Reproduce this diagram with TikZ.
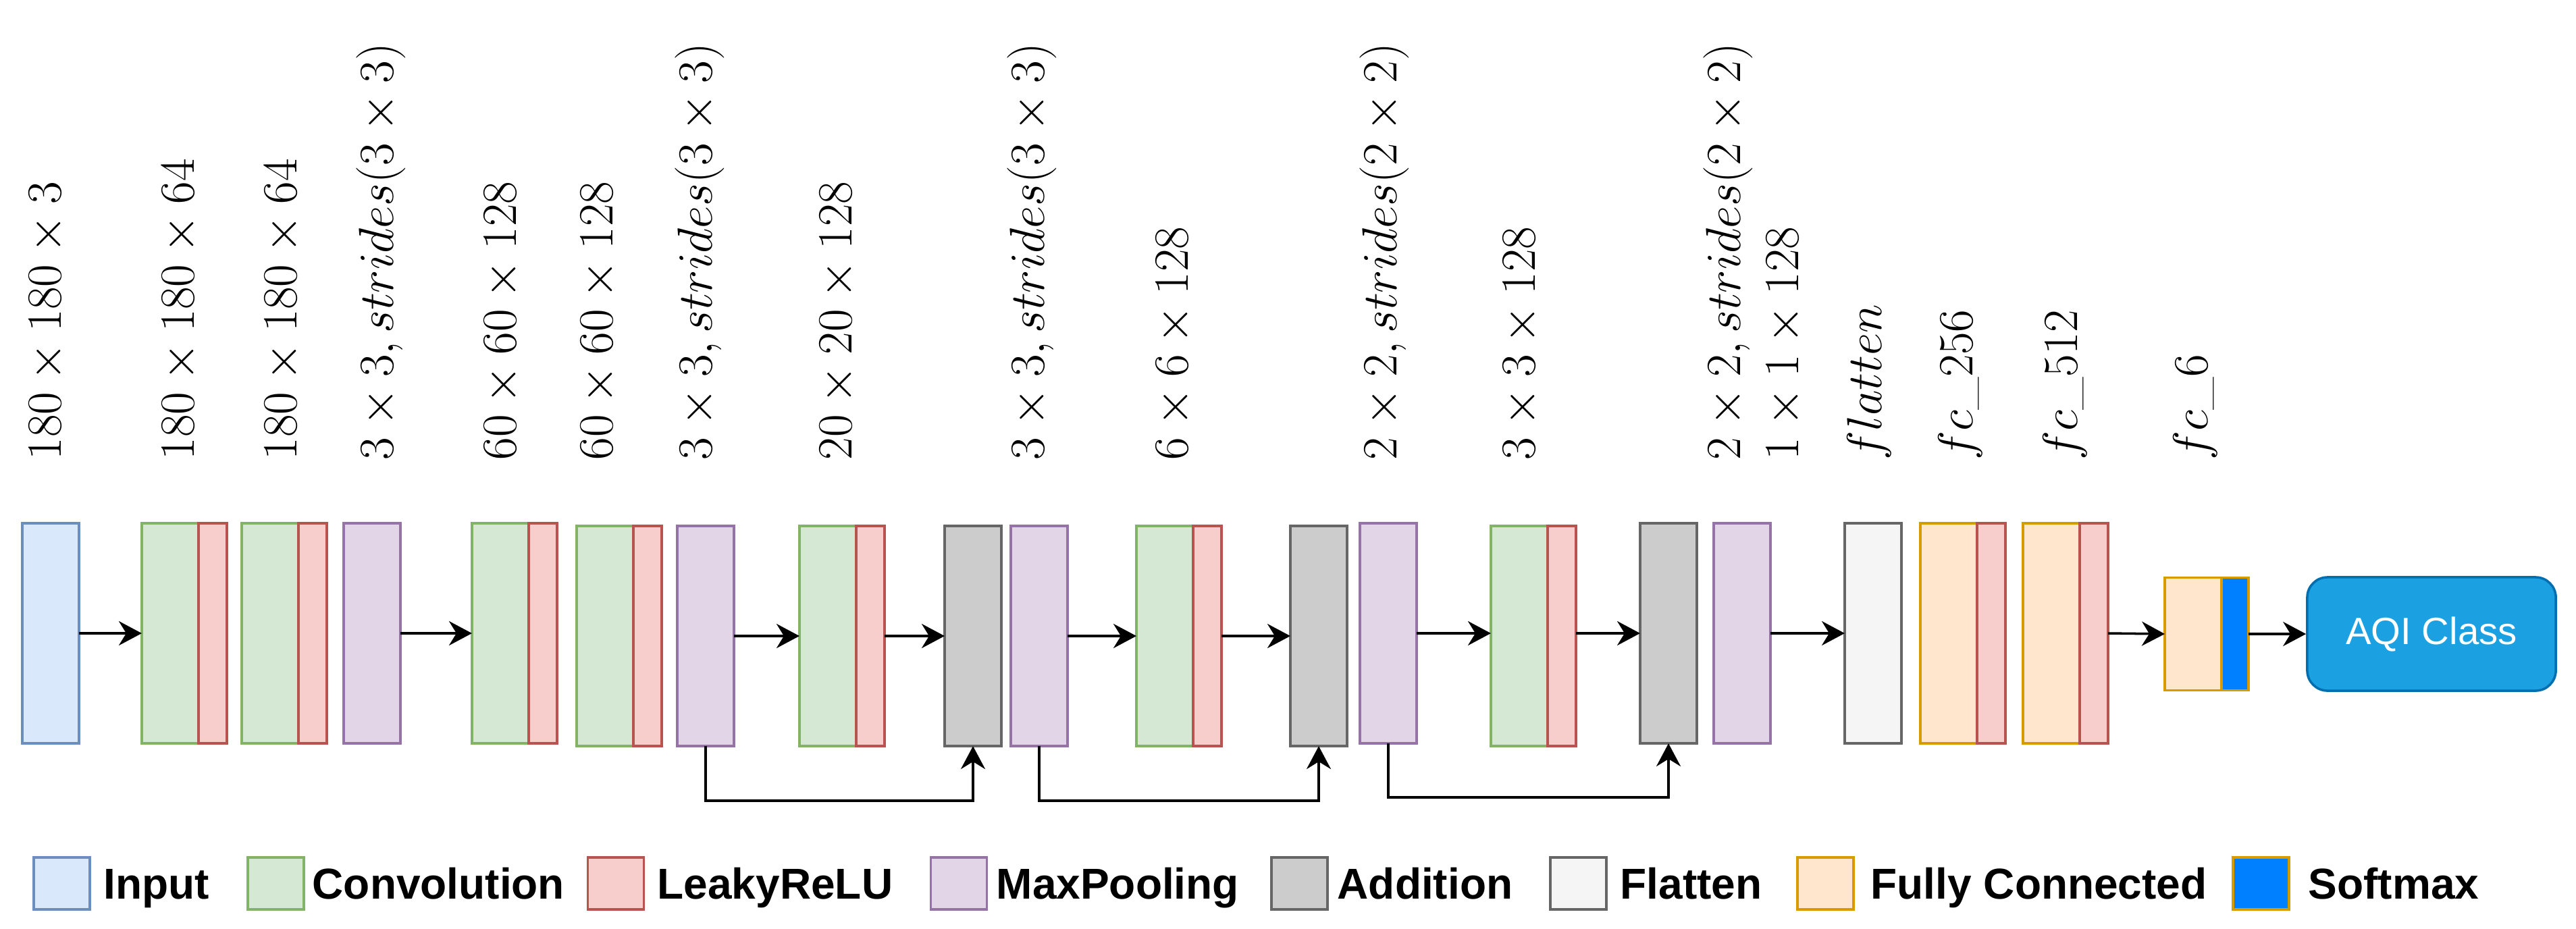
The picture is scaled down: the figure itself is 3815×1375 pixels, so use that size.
\documentclass[tikz,border=0pt]{standalone}
\usepackage{fontspec}
\setsansfont{Liberation Sans}
\usetikzlibrary{arrows.meta}
\definecolor{inF}{HTML}{DAE8FC}\definecolor{inD}{HTML}{6C8EBF}
\definecolor{cvF}{HTML}{D5E8D4}\definecolor{cvD}{HTML}{82B366}
\definecolor{rlF}{HTML}{F8CECC}\definecolor{rlD}{HTML}{B85450}
\definecolor{mpF}{HTML}{E1D5E7}\definecolor{mpD}{HTML}{9673A6}
\definecolor{adF}{HTML}{CCCCCC}\definecolor{adD}{HTML}{666666}
\definecolor{flF}{HTML}{F5F5F5}\definecolor{flD}{HTML}{666666}
\definecolor{fcF}{HTML}{FFE6CC}\definecolor{fcD}{HTML}{D79B00}
\definecolor{smF}{HTML}{007FFF}
\definecolor{aqF}{HTML}{1BA1E2}\definecolor{aqD}{HTML}{006EAF}
\begin{document}
\begin{tikzpicture}[x=0.01cm,y=-0.01cm,
  blk/.style={draw, line width=1pt, inner sep=0pt, outer sep=0pt, minimum width=0.84cm, minimum height=3.26cm},
  thin blk/.style={blk, minimum width=0.42cm},
  inp/.style={blk, fill=inF, draw=inD},
  conv/.style={blk, fill=cvF, draw=cvD},
  relu/.style={thin blk, fill=rlF, draw=rlD, anchor=west},
  pool/.style={blk, fill=mpF, draw=mpD},
  addn/.style={blk, fill=adF, draw=adD},
  flat/.style={blk, fill=flF, draw=flD},
  fcl/.style={blk, fill=fcF, draw=fcD},
  lgbox/.style={draw, line width=1pt, inner sep=0pt, minimum width=0.83cm, minimum height=0.77cm},
  lgtxt/.style={anchor=base west, inner sep=0pt, font=\sffamily\bfseries\fontsize{18.2}{22}\selectfont},
  lbl/.style={rotate=90, anchor=west, inner sep=0pt, font=\fontsize{20}{24}\selectfont},
  arr/.style={line width=1pt, -{Stealth[length=0.34cm, width=0.36cm, inset=0.11cm]}}]
\useasboundingbox (0,0) rectangle (3815,1375);

% main row
\node[inp]  (in)  at (75,938) {};
\node[conv] (c1)  at (252,938) {};  \node[relu] (r1) at (c1.east) {};
\node[conv] (c2)  at (400,938) {};  \node[relu] (r2) at (c2.east) {};
\node[pool] (mp1) at (551,938) {};
\node[conv] (c3)  at (741,938) {};  \node[relu] (r3) at (c3.east) {};
\node[conv] (c4)  at (896,942) {};  \node[relu] (r4) at (c4.east) {};
\node[pool] (mp2) at (1045,942) {};
\node[conv] (c5)  at (1226,942) {}; \node[relu] (r5) at (c5.east) {};
\node[addn] (ad1) at (1441,942) {};
\node[pool] (mp3) at (1539,942) {};
\node[conv] (c6)  at (1725,942) {}; \node[relu] (r6) at (c6.east) {};
\node[addn] (ad2) at (1953,942) {};
\node[pool] (mp4) at (2056,938) {};
\node[conv] (c7)  at (2250,942) {}; \node[relu] (r7) at (c7.east) {};
\node[addn] (ad3) at (2471,938) {};
\node[pool] (mp5) at (2580,938) {};
\node[flat] (fl)  at (2774,938) {};
\node[fcl]  (f1)  at (2886,938) {}; \node[relu] (fr1) at (f1.east) {};
\node[fcl]  (f2)  at (3038,938) {}; \node[relu] (fr2) at (f2.east) {};
\node[fcl, minimum height=1.67cm] (f3) at (3248,939) {};
\node[thin blk, anchor=west, minimum width=0.40cm, minimum height=1.67cm, fill=smF, draw=fcD] (sm) at (f3.east) {};
\node[draw=aqD, fill=aqF, line width=1pt, rounded corners=0.3cm, minimum width=3.68cm, minimum height=1.68cm,
      text=white, font=\sffamily\fontsize{16}{19}\selectfont] (aqi) at (3601,939) {AQI Class};

% connectors
\draw[arr] (in.east) -- (c1.west);
\draw[arr] (mp1.east) -- (c3.west);
\draw[arr] (mp2.east) -- (c5.west);
\draw[arr] (r5.east) -- (ad1.west);
\draw[arr] (mp3.east) -- (c6.west);
\draw[arr] (r6.east) -- (ad2.west);
\draw[arr] (mp4.east) -- (mp4.east -| c7.west);
\draw[arr] (ad3.west -| r7.east) -- (ad3.west);
\draw[arr] (mp5.east) -- (fl.west);
\draw[arr] (fr2.east) -- (f3.west);
\draw[arr] (sm.east) -- (aqi.west);
% skip connections
\draw[arr] (mp2.south) -- ++(0,81) -| (ad1.south);
\draw[arr] (mp3.south) -- ++(0,81) -| (ad2.south);
\draw[arr] (mp4.south) -- ++(0,80) -| (ad3.south);

% labels
\node[lbl] (l1)  at (70,682)   {$180\times180\times3$};
\node[lbl] (l2)  at (267,682)  {$180\times180\times64$};
\node[lbl] (l3)  at (419,682)  {$180\times180\times64$};
\node[lbl] (l4)  at (564,682)  {$3\times3, strides(3\times3)$};
\node[lbl] (l5)  at (744,682)  {$60\times60\times128$};
\node[lbl] (l6)  at (887,682)  {$60\times60\times128$};
\node[lbl] (l7)  at (1036,682) {$3\times3, strides(3\times3)$};
\node[lbl] (l8)  at (1241,682) {$20\times20\times128$};
\node[lbl] (l9)  at (1528,682) {$3\times3, strides(3\times3)$};
\node[lbl] (l10) at (1739,682) {$6\times6\times128$};
\node[lbl] (l11) at (2050,682) {$2\times2, strides(2\times2)$};
\node[lbl] (l12) at (2253,682) {$3\times3\times128$};
\node[lbl] (l13) at (2559,682) {$2\times2, strides(2\times2)$};
\node[lbl] (l14) at (2643,682) {$1\times1\times128$};
\node[lbl] (l15) at (2768,682) {$flatten$};
\node[lbl] (l16) at (2903,682) {$fc\_256$};
\node[lbl] (l17) at (3058,682) {$fc\_512$};
\node[lbl] (l18) at (3251,682) {$fc\_6$};

% legend
\node[lgbox, fill=inF, draw=inD] (g1) at (91.5,1308.5) {};
\node[lgtxt] (t1) at (153,1331) {Input};
\node[lgbox, fill=cvF, draw=cvD] (g2) at (408.5,1308.5) {};
\node[lgtxt] (t2) at (462,1331) {Convolution};
\node[lgbox, fill=rlF, draw=rlD] (g3) at (912,1308.5) {};
\node[lgtxt] (t3) at (973,1331) {LeakyReLU};
\node[lgbox, fill=mpF, draw=mpD] (g4) at (1420,1308.5) {};
\node[lgtxt] (t4) at (1475,1331) {MaxPooling};
\node[lgbox, fill=adF, draw=adD] (g5) at (1924.5,1308.5) {};
\node[lgtxt] (t5) at (1980,1331) {Addition};
\node[lgbox, fill=flF, draw=flD] (g6) at (2337.5,1308.5) {};
\node[lgtxt] (t6) at (2399,1331) {Flatten};
\node[lgbox, fill=fcF, draw=fcD] (g7) at (2703.5,1308.5) {};
\node[lgtxt] (t7) at (2770,1331) {Fully Connected};
\node[lgbox, fill=smF, draw=fcD] (g8) at (3348.5,1308.5) {};
\node[lgtxt] (t8) at (3418,1331) {Softmax};
\end{tikzpicture}
\end{document}
